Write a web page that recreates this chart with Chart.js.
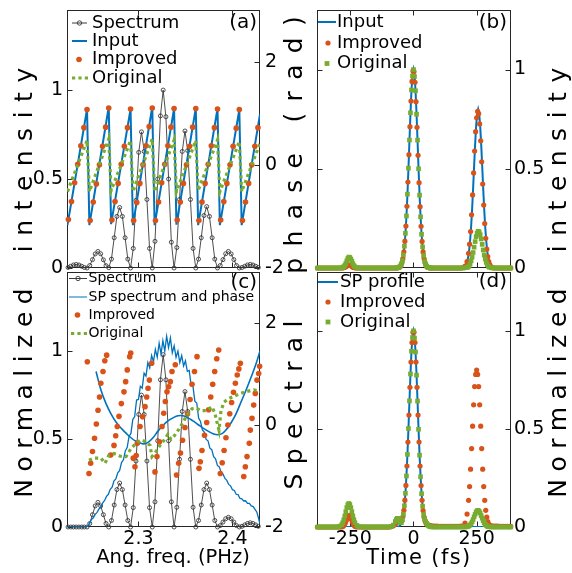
<!DOCTYPE html>
<html>
<head>
<meta charset="utf-8">
<title>Spectral phase retrieval</title>
<script src="https://cdn.jsdelivr.net/npm/chart.js@4.4.1/dist/chart.umd.min.js"></script>
<style>
  html, body { margin:0; padding:0; background:#fff; }
  #wrap { position:relative; width:572px; height:573px; overflow:hidden; background:#fff; }
  #wrap canvas { position:absolute; left:0; top:0; }
  .yt { position:absolute; font-family:'DejaVu Sans', sans-serif; font-size:25px; line-height:1; color:#000;
        white-space:nowrap; transform:translate(-50%,-50%) rotate(-90deg); }
  .xt { position:absolute; font-family:'DejaVu Sans', sans-serif; font-size:19.5px; line-height:1; color:#000;
        white-space:nowrap; transform:translate(-50%,-50%); }
</style>
</head>
<body>
<div id="wrap">
  <canvas id="chartA" width="572" height="573"></canvas>
  <canvas id="chartB" width="572" height="573"></canvas>
  <canvas id="chartC" width="572" height="573"></canvas>
  <canvas id="chartD" width="572" height="573"></canvas>
  <div class="yt" style="left:23px;top:160px;letter-spacing:9.5px;padding-left:9.5px">intensity</div>
  <div class="yt" style="left:23px;top:393px;letter-spacing:7.5px;padding-left:7.5px">Normalized</div>
  <div class="yt" style="left:293px;top:145px;letter-spacing:11.3px;padding-left:11.3px">phase (rad)</div>
  <div class="yt" style="left:293px;top:405px;letter-spacing:9.4px;padding-left:9.4px">Spectral</div>
  <div class="yt" style="left:557px;top:160px;letter-spacing:9.5px;padding-left:9.5px">intensity</div>
  <div class="yt" style="left:557px;top:393px;letter-spacing:7.5px;padding-left:7.5px">Normalized</div>
  <div class="xt" style="left:173px;top:556.5px">Ang. freq. (PHz)</div>
  <div class="xt" style="left:419px;top:556.5px;font-size:21px;letter-spacing:1.4px">Time (fs)</div>
</div>
<script>
// ---------------- tick labels ----------------
const freqTicks = [2.3, 2.4];
const timeTicks = [-250, 0, 250];
const intensityTicks = [0, 0.5, 1];
const phaseTicks = [-2, 0, 2];

// ---------------- panel (a) ----------------
const specFreq = [2.2251,2.2280,2.2309,2.2338,2.2367,2.2396,2.2424,
 2.2453,2.2482,2.2511,2.2540,2.2569,2.2598,2.2627,2.2655,
 2.2684,2.2713,2.2742,2.2771,2.2800,2.2829,2.2858,2.2887,
 2.2916,2.2945,2.2974,2.3003,2.3032,2.3061,2.3090,2.3118,
 2.3147,2.3176,2.3205,2.3234,2.3263,2.3292,2.3321,2.3350,
 2.3379,2.3408,2.3437,2.3466,2.3495,2.3524,2.3553,2.3581,
 2.3610,2.3639,2.3668,2.3697,2.3726,2.3755,2.3784,2.3812,
 2.3841,2.3870,2.3899,2.3928,2.3957,2.3986,2.4015,2.4043,
 2.4073,2.4102,2.4131,2.4160,2.4189,2.4218,2.4247,2.4275];
const spectrumA = [0.003,0.010,0.017,0.020,0.017,0.010,0.003,
 0.000,0.014,0.047,0.079,0.093,0.080,0.046,0.013,
 0.002,0.050,0.170,0.290,0.340,0.290,0.170,0.050,
 0.000,0.110,0.380,0.650,0.765,0.655,0.385,0.110,
 0.000,0.150,0.500,0.855,1.000,0.850,0.500,0.145,
 0.000,0.115,0.385,0.655,0.770,0.660,0.385,0.110,
 0.000,0.050,0.170,0.295,0.345,0.290,0.170,0.050,
 0.000,0.014,0.047,0.080,0.093,0.079,0.047,0.014,
 0.000,0.003,0.010,0.017,0.020,0.017,0.010,0.003];
const sawFreqA = [2.2245,2.2453,2.2478,2.2684,2.2709,2.2916,2.2941,2.3147,2.3172,2.3379,2.3404,2.3610,2.3635,2.3841,2.3866,2.4073,2.4098,2.4293];
const inputPhaseA = [-1.17,1.08,-1.17,1.12,-1.15,1.08,-1.17,1.12,-1.17,1.09,-1.16,1.10,-1.17,1.09,-1.17,1.07,-1.17,0.98];
const originalPhaseA = [-0.52,0.47,-0.52,0.50,-0.50,0.47,-0.52,0.50,-0.52,0.48,-0.52,0.47,-0.50,0.48,-0.52,0.45,-0.52,0.42];
const improvedFreqA = [2.2255,2.2288,2.2321,2.2354,2.2387,2.2420,2.2453,
 2.2486,2.2519,2.2552,2.2585,2.2618,2.2651,2.2684,
 2.2718,2.2751,2.2784,2.2817,2.2850,2.2883,2.2916,
 2.2949,2.2982,2.3015,2.3048,2.3081,2.3114,2.3147,
 2.3181,2.3214,2.3247,2.3280,2.3313,2.3346,2.3379,
 2.3412,2.3445,2.3478,2.3511,2.3544,2.3577,2.3610,
 2.3643,2.3676,2.3709,2.3742,2.3775,2.3808,2.3841,
 2.3875,2.3908,2.3941,2.3974,2.4007,2.4040,2.4073,
 2.4106,2.4139,2.4172,2.4205,2.4238,2.4271];
const improvedPhaseA = [-1.06,-0.71,-0.35,0.01,0.37,0.72,1.07,
 -1.08,-0.72,-0.37,0.00,0.36,0.73,1.10,
 -1.07,-0.71,-0.36,0.01,0.36,0.72,1.08,
 -1.08,-0.73,-0.36,0.00,0.37,0.74,1.10,
 -1.08,-0.72,-0.35,0.01,0.37,0.73,1.09,
 -1.07,-0.72,-0.36,0.00,0.36,0.73,1.09,
 -1.08,-0.72,-0.36,0.01,0.37,0.72,1.08,
 -1.07,-0.71,-0.36,0.00,0.36,0.71,1.07,
 -1.08,-0.72,-0.36,0.00,0.36,0.72];

// ---------------- panel (c) ----------------
const spectrumC = [0,0,0,0,0,0,0,
 0.000,0.020,0.070,0.120,0.140,0.120,0.070,0.020,
 0.000,0.037,0.125,0.213,0.250,0.213,0.125,0.037,
 0.000,0.110,0.375,0.640,0.750,0.640,0.375,0.110,
 0.000,0.143,0.490,0.837,0.980,0.837,0.490,0.143,
 0.000,0.112,0.385,0.657,0.770,0.657,0.385,0.112,
 0.000,0.037,0.125,0.213,0.250,0.213,0.125,0.037,
 0.000,0.008,0.028,0.047,0.055,0.047,0.028,0.008,
 0.000,0.004,0.012,0.020,0.024,0.020,0.012,0.004];
const spSpecFreqC = [2.224,2.2455,2.246,2.248,2.250,2.252,2.254,2.256,2.258,2.260,2.262,2.264,2.266,2.268,2.270,2.272,2.274,2.276,2.278,2.280,2.282,2.284,2.286,2.288,2.290,2.292,2.294,2.296,2.298,2.300,2.302,2.304,2.306,2.308,2.310,2.312,2.314,2.316,2.318,2.320,2.322,2.324,2.326,2.328,2.330,2.332,2.334,2.336,2.338,2.340,2.342,2.344,2.346,2.348,2.350,2.352,2.354,2.356,2.358,2.360,2.362,2.364,2.366,2.368,2.370,2.372,2.374,2.376,2.378,2.380,2.382,2.384,2.386,2.388,2.390,2.392,2.394,2.396,2.398,2.400,2.402,2.404,2.406,2.408,2.410,2.412,2.414,2.416,2.418,2.420,2.422,2.424,2.426,2.428,2.429];
const spSpectrumC = [0,0,
 0.000,0.022,0.043,0.052,0.072,0.083,0.103,0.112,0.138,0.151,
 0.174,0.186,0.214,0.226,0.262,0.274,0.308,0.322,0.366,0.382,
 0.432,0.452,0.515,0.532,0.612,0.628,0.722,0.725,0.800,0.790,
 0.875,0.858,0.935,0.905,0.975,0.940,1.010,0.965,1.045,0.985,
 1.060,1.000,1.085,1.020,1.075,0.990,1.030,0.965,1.000,0.935,
 0.975,0.915,0.945,0.885,0.890,0.805,0.800,0.715,0.705,0.620,
 0.600,0.552,0.540,0.498,0.490,0.448,0.440,0.400,0.388,0.350,
 0.342,0.310,0.300,0.276,0.265,0.242,0.234,0.212,0.208,0.186,
 0.184,0.162,0.160,0.148,0.149,0.134,0.134,0.120,0.116,0.100,
 0.084,0.045,0.020];
const spPhaseFreqC = [2.2549,2.2602,2.2655,2.2708,2.2761,2.2814,2.2868,2.2921,2.2974,2.3027,2.3059,2.3102,2.3155,2.3208,2.3261,2.3314,2.3368,2.3421,2.3474,2.3527,2.3580,2.3634,2.3687,2.3740,2.3793,2.3846,2.3889,2.3931,2.3984,2.4038,2.4091,2.4144,2.4197,2.4251,2.4293];
const spPhaseC = [1.05,0.68,0.42,0.22,0.06,-0.06,-0.16,-0.25,-0.32,-0.36,-0.37,-0.34,-0.25,-0.12,-0.01,0.08,0.14,0.18,0.18,0.14,0.08,0.01,-0.06,-0.12,-0.17,-0.19,-0.17,-0.10,0.04,0.22,0.45,0.68,0.93,1.20,1.45];
const originalFreqC = [2.2474,2.2527,2.2602,2.2644,2.2687,2.2740,2.2804,2.2868,2.2921,2.2974,2.3027,2.3080,2.3123,2.3144,2.3176,2.3229,2.3272,2.3314,2.3346,2.3378,2.3431,2.3474,2.3517,2.3570,2.3612,2.3666,2.3719,2.3782,2.3814,2.3836,2.3857,2.3878,2.3910,2.3963,2.4049,2.4134,2.4229,2.4293];
const originalPhaseC = [-0.69,-0.65,-0.65,-0.75,-0.59,-0.56,-0.61,-0.62,-0.46,-0.36,-0.29,-0.33,-0.40,-0.62,-0.55,-0.40,-0.30,-0.18,-0.28,-0.22,-0.08,0.05,0.20,0.32,0.33,0.28,0.28,0.36,0.22,0.05,-0.10,0.28,0.45,0.52,0.59,0.65,0.69,0.66];
const improvedFreqC = [2.2456,
 2.2474,2.2492,2.2511,2.2533,2.2552,2.2570,2.2586,2.2600,2.2623,2.2642,2.2662,
 2.2705,2.2740,2.2758,2.2775,2.2793,2.2818,2.2846,2.2864,2.2881,2.2907,2.2918,
 2.2945,2.2963,2.2976,2.2988,2.3017,2.3045,2.3070,2.3088,2.3102,2.3116,2.3141,
 2.3176,2.3197,2.3224,2.3251,2.3269,2.3286,2.3304,2.3321,2.3339,2.3357,2.3392,
 2.3405,2.3428,2.3447,2.3469,2.3495,2.3522,2.3549,2.3570,2.3596,2.3623,
 2.3644,2.3658,2.3676,2.3703,2.3726,2.3747,2.3769,2.3790,2.3811,2.3833,2.3854,
 2.3871,2.3891,2.3911,2.3931,2.3951,2.3971,2.3991,2.4011,2.4031,2.4051,2.4068,2.4084,
 2.4120,2.4137,2.4155,2.4179,2.4190,2.4208,2.4226,2.4243,2.4261,2.4279,2.4289];
const improvedPhaseC = [1.24,
 -0.95,-0.75,-0.52,-0.26,0.02,0.29,0.55,0.82,1.05,1.26,1.37,
 -0.59,-0.40,-0.21,-0.03,0.17,0.42,0.65,0.85,1.08,1.34,1.41,
 -0.65,-0.82,-0.60,-0.36,-0.03,0.16,0.36,0.55,0.72,0.88,1.21,
 -0.92,-0.62,-0.33,-0.03,0.23,0.46,0.65,0.75,0.85,1.05,1.18,
 -0.98,-0.75,-0.55,-0.30,-0.05,0.22,0.50,0.80,1.05,1.34,
 -0.85,-0.72,-0.50,-0.20,0.05,0.30,0.55,0.80,1.05,1.30,1.47,
 -0.95,-0.74,-0.50,-0.25,0.00,0.22,0.44,0.64,0.82,0.98,1.10,1.21,
 -1.01,-0.82,-0.62,-0.36,-0.10,0.13,0.39,0.62,0.88,1.01,1.15];

// ---------------- panels (b) and (d): time domain ----------------
const timeGridOrig = [-380,-372,-364,-356,-348,-340,-332,-324,-316,-308,-300,-292,-284,
 -280,-276,-272,-268,-264,-260,-256,-252,-248,-244,-240,-236,-232,
 -224,-216,-208,-200,-192,-184,-176,-168,-160,-152,-144,-136,-128,-120,-112,-104,-96,-88,-80,-72,
 -68,-64,-60,-56,-52,-48,-44,-40,-36,-32,-28,-24,-20,-16,-12,-8,-4,0,4,8,12,16,20,24,28,32,36,40,44,48,52,56,60,64,68,
 76,84,92,100,108,116,124,132,140,148,156,164,172,180,188,196,204,212,
 216,220,224,228,232,236,240,244,248,252,256,260,264,268,272,276,280,284,288,292,296,300,
 308,316,324,332,340,348,356,364,372,380,385];
const timeGridImp = [-380,-372,-364,-356,-348,-340,-332,-324,-316,-308,-300,-292,-284,
 -278,-274,-270,-266,-262,-258,-254,-250,-246,-242,-238,-234,-230,
 -224,-216,-208,-200,-192,-184,-176,-168,-160,-152,-144,-136,-128,-120,-112,-104,-96,-88,-80,-72,
 -66,-62,-58,-54,-50,-46,-42,-38,-34,-30,-26,-22,-18,-14,-10,-6,-2,2,6,10,14,18,22,26,30,34,38,42,46,50,54,58,62,66,70,
 76,84,92,100,108,116,124,132,140,148,156,164,172,180,188,196,204,212,
 218,222,226,230,234,238,242,246,250,254,258,262,266,270,274,278,282,286,290,294,298,302,
 308,316,324,332,340,348,356,364,372,380,385];
const inputTimeB = [-382,-72,
 -68,-64,-60,-56,-52,-48,-44,-40,-36,-32,-28,-24,-20,-16,-12,-8,-4,0,4,8,12,16,20,24,28,32,36,40,44,48,52,56,60,64,68,
 72,200,208,
 216,220,224,228,232,236,240,244,248,252,256,260,264,268,272,276,280,284,288,292,296,300,
 308,386];
const inputB = [0,0,
 0,0.001,0.002,0.004,0.009,0.019,0.035,0.063,0.106,0.170,0.258,0.369,0.500,0.642,0.779,0.895,0.973,1.000,0.973,0.895,0.779,0.642,0.500,0.369,0.258,0.170,0.106,0.063,0.035,0.019,0.009,0.004,0.002,0.001,0,
 0,0,0.015,
 0.050,0.085,0.136,0.206,0.295,0.400,0.514,0.623,0.716,0.778,0.800,0.778,0.716,0.623,0.514,0.400,0.295,0.206,0.136,0.085,0.050,0.028,
 0.004,0];
const improvedB = [0,0,0,0,0,0,0,0,0,0,0,0,0,
 0.001,0.003,0.005,0.008,0.012,0.014,0.015,0.013,0.010,0.006,0.003,0.002,0.001,
 0,0,0,0,0,0,0,0,0,0,0,0,0,0,0,0,0,0,0,0,
 0.001,0.001,0.003,0.006,0.013,0.026,0.047,0.082,0.135,0.211,0.311,0.433,0.571,0.712,0.841,0.940,0.993,0.990,0.936,0.838,0.709,0.568,0.430,0.309,0.210,0.134,0.081,0.046,0.026,0.013,0.006,0.003,0.001,0.001,0,
 0,0,0,0,0,0,0,0,0,0,0,0,0,0,0,0.002,0.009,0.032,
 0.074,0.120,0.184,0.268,0.368,0.479,0.589,0.687,0.757,0.789,0.778,0.726,0.641,0.535,0.423,0.317,0.224,0.150,0.095,0.057,0.032,0.017,
 0.006,0.001,0,0,0,0,0,0,0,0,0];
const originalB = [0,0,0,0,0,0,0,0,0,0,0,0,0.001,
 0.003,0.007,0.013,0.023,0.036,0.048,0.055,0.053,0.045,0.034,0.022,0.012,0.006,
 0.002,0,0,0,0,0,0,0,0,0,0,0,0,0,0,0,0,0,0,0,
 0,0.001,0.002,0.005,0.010,0.020,0.037,0.066,0.110,0.175,0.262,0.372,0.503,0.645,0.782,0.897,0.968,1.000,0.965,0.893,0.775,0.644,0.500,0.367,0.258,0.170,0.106,0.063,0.035,0.019,0.009,0.004,0.002,0.001,0,
 0,0,0,0,0,0,0,0,0,0,0,0,0,0,0,0,0.001,0.003,
 0.005,0.010,0.020,0.036,0.055,0.078,0.105,0.133,0.158,0.176,0.185,0.182,0.168,0.146,0.119,0.091,0.066,0.045,0.028,0.017,0.009,0.004,
 0.001,0,0,0,0,0,0,0,0,0,0];
const profileTimeD = [-382,-72,
 -68,-64,-60,-56,-52,-48,-44,-40,-36,-32,-28,-24,-20,-16,-12,-8,-4,0,4,8,12,16,20,24,28,32,36,40,44,48,52,56,60,64,68,
 72,386];
const profileD = [0,0,
 0,0.001,0.002,0.004,0.009,0.019,0.035,0.063,0.106,0.170,0.258,0.369,0.500,0.642,0.779,0.895,0.973,1.000,0.973,0.895,0.779,0.642,0.500,0.369,0.258,0.170,0.106,0.063,0.035,0.019,0.009,0.004,0.002,0.001,0,
 0,0];
const improvedD = [0,0,0,0,0,0,0,0,0,0,0,0,0,
 0.004,0.010,0.020,0.033,0.047,0.057,0.060,0.053,0.040,0.026,0.014,0.007,0.003,
 0,0,0,0,0,0,0,0,0,0,0,0,0,0,0,0,0,0.002,0.006,0.015,
 0.025,0.029,0.030,0.026,0.025,0.032,0.052,0.085,0.137,0.212,0.311,0.433,0.571,0.712,0.841,0.940,0.993,0.993,0.940,0.841,0.712,0.571,0.433,0.311,0.211,0.136,0.084,0.050,0.030,0.019,0.014,0.011,0.009,0.007,0.006,
 0.005,0.004,0.004,0.003,0.003,0.003,0.003,0.003,0.003,0.003,0.003,0.003,0.003,0.003,0.004,0.005,0.020,0.066,
 0.136,0.206,0.295,0.400,0.514,0.623,0.716,0.778,0.800,0.778,0.716,0.623,0.514,0.400,0.295,0.206,0.136,0.085,0.050,0.028,0.015,0.008,
 0.006,0.005,0.004,0.004,0.003,0.003,0.003,0.003,0.003,0.003,0.003];
const originalD = [0,0,0,0,0,0,0,0,0,0,0.001,0.004,0.012,
 0.022,0.037,0.056,0.078,0.099,0.114,0.120,0.114,0.099,0.078,0.056,0.037,0.022,
 0.008,0.002,0,0,0,0,0,0,0,0,0,0,0,0,0,0,0,0.002,0.010,0.028,
 0.038,0.044,0.044,0.036,0.024,0.022,0.037,0.065,0.108,0.172,0.260,0.370,0.502,0.643,0.780,0.896,0.966,1.000,0.963,0.892,0.774,0.642,0.498,0.366,0.256,0.170,0.106,0.064,0.040,0.028,0.018,0.010,0.006,0.003,0.001,
 0,0,0,0,0,0,0,0,0,0,0,0,0,0,0,0,0,0.001,
 0.003,0.006,0.010,0.017,0.026,0.038,0.052,0.065,0.076,0.083,0.085,0.080,0.071,0.058,0.045,0.032,0.021,0.013,0.008,0.004,0.002,0.001,
 0,0,0,0,0,0,0,0,0,0,0];

// ---------------- styling & helpers ----------------
const BLUE = '#0072BD', ORANGE = '#D95319', GREEN = '#77AC30', SPEC = '#3a3a3a', AXIS = '#262626';
const FONT = "'DejaVu Sans', sans-serif";
Chart.defaults.font.family = FONT;
Chart.defaults.color = '#000';

const pts = (xs, ys) => xs.map((x, i) => ({x: x, y: ys[i]}));
const zeroPad = s => { s.paddingTop = 0; s.paddingBottom = 0; s.paddingLeft = 0; s.paddingRight = 0; };
const fixW = w => s => { s.width = w; zeroPad(s); };
const fixH = h => s => { s.height = h; zeroPad(s); };
const setTicks = vals => s => { s.ticks = vals.map(v => ({value: v})); };
const tickFont = {family: FONT, size: 19, lineHeight: 1};

function xScale(min, max, vals, labels) {
  return {type: 'linear', position: 'bottom', min: min, max: max,
    grid: {display: false, drawTicks: false}, border: {display: false},
    afterBuildTicks: setTicks(vals),
    ticks: {display: labels, autoSkip: false, maxRotation: 0, padding: 3, font: tickFont, color: '#000', callback: v => String(v)},
    afterFit: fixH(labels ? 30 : 0)};
}
function yScale(pos, min, max, vals, pad) {
  return {type: 'linear', position: pos, min: min, max: max,
    grid: {display: false, drawTicks: false}, border: {display: false},
    afterBuildTicks: setTicks(vals),
    ticks: {autoSkip: false, padding: pad, font: tickFont, color: '#000', callback: v => String(v)},
    afterFit: fixW(40)};
}

function panelPlugin(spec) {
  return {
    id: 'panelDeco',
    beforeDatasetsDraw(chart) {
      const ctx = chart.ctx, a = chart.chartArea, sc = chart.scales, L = 5;
      const l = Math.round(a.left) + 0.5, r = Math.round(a.right) - 0.5;
      const t = Math.round(a.top) + 0.5, b = Math.round(a.bottom) - 0.5;
      ctx.save();
      ctx.strokeStyle = AXIS; ctx.lineWidth = 1; ctx.setLineDash([]);
      ctx.strokeRect(l, t, r - l, b - t);
      ctx.beginPath();
      spec.xTicks.forEach(v => {
        const x = Math.round(sc.x.getPixelForValue(v)) + 0.5;
        ctx.moveTo(x, b); ctx.lineTo(x, b - L); ctx.moveTo(x, t); ctx.lineTo(x, t + L);
      });
      (spec.leftTicks || []).forEach(v => {
        const y = Math.round(sc[spec.leftScale].getPixelForValue(v)) + 0.5;
        ctx.moveTo(l, y); ctx.lineTo(l + L, y);
      });
      (spec.rightTicks || []).forEach(v => {
        const y = Math.round(sc[spec.rightScale].getPixelForValue(v)) + 0.5;
        ctx.moveTo(r, y); ctx.lineTo(r - L, y);
      });
      ctx.stroke();
      ctx.restore();
    },
    afterDraw(chart) {
      const ctx = chart.ctx;
      ctx.save();
      ctx.fillStyle = '#000'; ctx.textBaseline = 'middle';
      ctx.font = '20px ' + FONT; ctx.textAlign = 'right';
      ctx.fillText(spec.tag, spec.tagX, spec.tagY);
      ctx.font = spec.legendSize + 'px ' + FONT; ctx.textAlign = 'left';
      spec.legend.forEach(it => {
        const y = it.y;
        ctx.setLineDash([]);
        if (it.kind === 'line' || it.kind === 'lineCircle') {
          ctx.strokeStyle = it.color; ctx.lineWidth = it.w;
          ctx.beginPath(); ctx.moveTo(it.x0, y); ctx.lineTo(it.x1, y); ctx.stroke();
        }
        if (it.kind === 'lineCircle') {
          ctx.lineWidth = 0.9; ctx.beginPath(); ctx.arc((it.x0 + it.x1) / 2, y, 2.2, 0, Math.PI * 2); ctx.stroke();
        }
        if (it.kind === 'dotted') {
          ctx.strokeStyle = it.color; ctx.lineWidth = it.w; ctx.setLineDash([3.2, 3.2]);
          ctx.beginPath(); ctx.moveTo(it.x0, y); ctx.lineTo(it.x1, y); ctx.stroke(); ctx.setLineDash([]);
        }
        if (it.kind === 'dot') {
          ctx.fillStyle = it.color; ctx.beginPath(); ctx.arc(it.x0, y, it.r, 0, Math.PI * 2); ctx.fill();
        }
        if (it.kind === 'square') {
          ctx.fillStyle = it.color; ctx.fillRect(it.x0 - it.r, y - it.r, 2 * it.r, 2 * it.r);
        }
        ctx.fillStyle = '#000';
        ctx.fillText(it.text, spec.legendX, y);
      });
      ctx.restore();
    }
  };
}

function baseOptions(padding, scales) {
  return {
    responsive: false, animation: false, devicePixelRatio: 1, events: [],
    layout: {padding: padding},
    plugins: {legend: {display: false}, tooltip: {enabled: false}},
    scales: scales
  };
}

const dotted = (data, axis, order) => ({data: data, yAxisID: axis, showLine: true, borderColor: GREEN, borderWidth: 3.2,
  borderDash: [3.2, 3.2], pointRadius: 0, order: order});
const dots = (data, axis, r, order) => ({data: data, yAxisID: axis, showLine: false, pointRadius: r,
  pointBackgroundColor: ORANGE, pointBorderWidth: 0, order: order, clip: 8});
const squares = (data, axis, order) => ({data: data, yAxisID: axis, showLine: false, pointStyle: 'rect', pointRadius: 3.3,
  pointBackgroundColor: GREEN, pointBorderWidth: 0, order: order, clip: 8});
const line = (data, axis, w, order, tension) => ({data: data, yAxisID: axis, showLine: true, borderColor: BLUE, borderWidth: w,
  pointRadius: 0, order: order, tension: tension || 0});
const specLine = (data, order) => ({data: data, yAxisID: 'y', showLine: true, borderColor: SPEC, borderWidth: 0.9,
  pointRadius: 2, pointBackgroundColor: 'rgba(0,0,0,0)', pointBorderColor: SPEC, pointBorderWidth: 0.9, order: order, clip: 8});

// ---------------- (a) ----------------
new Chart(document.getElementById('chartA'), {
  type: 'scatter',
  data: {datasets: [
    Object.assign(dotted(pts(sawFreqA, originalPhaseA), 'y1', 1), {label: 'Original'}),
    Object.assign(dots(pts(improvedFreqA, improvedPhaseA), 'y1', 2.8, 2), {label: 'Improved'}),
    Object.assign(line(pts(sawFreqA, inputPhaseA), 'y1', 2, 3), {label: 'Input'}),
    Object.assign(specLine(pts(specFreq, spectrumA), 4), {label: 'Spectrum'})
  ]},
  options: baseOptions({left: 27, right: 272, top: 10, bottom: 305}, {
    x: xScale(2.224, 2.4293, freqTicks, false),
    y: yScale('left', 0, 1.45, intensityTicks, 4),
    y1: yScale('right', -2, 3, phaseTicks, 5)
  }),
  plugins: [panelPlugin({xTicks: freqTicks, leftScale: 'y', leftTicks: intensityTicks, rightScale: 'y1', rightTicks: phaseTicks,
    tag: '(a)', tagX: 257, tagY: 23, legendX: 92, legendSize: 18,
    legend: [
      {kind: 'lineCircle', color: SPEC, w: 1, x0: 72, x1: 87, y: 23, text: 'Spectrum'},
      {kind: 'line', color: BLUE, w: 2, x0: 72, x1: 87, y: 41, text: 'Input'},
      {kind: 'dot', color: ORANGE, r: 2.8, x0: 79, y: 59.5, text: 'Improved'},
      {kind: 'dotted', color: GREEN, w: 3.2, x0: 72, x1: 88, y: 78, text: 'Original'}
    ]})]
});

// ---------------- (b) ----------------
new Chart(document.getElementById('chartB'), {
  type: 'scatter',
  data: {datasets: [
    Object.assign(squares(pts(timeGridOrig, originalB), 'y', 1), {label: 'Original'}),
    Object.assign(dots(pts(timeGridImp, improvedB), 'y', 2.6, 2), {label: 'Improved'}),
    Object.assign(line(pts(inputTimeB, inputB), 'y', 2, 3), {label: 'Input'})
  ]},
  options: baseOptions({left: 317, right: 21, top: 10, bottom: 305}, {
    x: xScale(-382, 386, timeTicks, false),
    y: yScale('right', 0, 1.3, intensityTicks, 3)
  }),
  plugins: [panelPlugin({xTicks: timeTicks, leftScale: 'y', leftTicks: intensityTicks, rightScale: 'y', rightTicks: intensityTicks,
    tag: '(b)', tagX: 507, tagY: 23, legendX: 337, legendSize: 18,
    legend: [
      {kind: 'line', color: BLUE, w: 2, x0: 318, x1: 336, y: 22, text: 'Input'},
      {kind: 'dot', color: ORANGE, r: 2.6, x0: 328, y: 43, text: 'Improved'},
      {kind: 'square', color: GREEN, r: 2.4, x0: 327, y: 63.5, text: 'Original'}
    ]})]
});

// ---------------- (c) ----------------
new Chart(document.getElementById('chartC'), {
  type: 'scatter',
  data: {datasets: [
    Object.assign(dotted(pts(originalFreqC, originalPhaseC), 'y1', 1), {label: 'Original'}),
    Object.assign(dots(pts(improvedFreqC, improvedPhaseC), 'y1', 2.8, 2), {label: 'Improved'}),
    Object.assign(line(pts(spPhaseFreqC, spPhaseC), 'y1', 1.6, 3, 0.4), {label: 'SP phase'}),
    Object.assign(line(pts(spSpecFreqC, spSpectrumC), 'y', 1.3, 4), {label: 'SP spectrum'}),
    Object.assign(specLine(pts(specFreq, spectrumC), 5), {label: 'Spectrum'})
  ]},
  options: baseOptions({left: 27, right: 272, top: 272, bottom: 16}, {
    x: xScale(2.224, 2.4293, freqTicks, true),
    y: yScale('left', 0, 1.45, intensityTicks, 4),
    y1: yScale('right', -2, 3, phaseTicks, 5)
  }),
  plugins: [panelPlugin({xTicks: freqTicks, leftScale: 'y', leftTicks: intensityTicks, rightScale: 'y1', rightTicks: phaseTicks,
    tag: '(c)', tagX: 257, tagY: 283, legendX: 88.5, legendSize: 14,
    legend: [
      {kind: 'lineCircle', color: SPEC, w: 1, x0: 69, x1: 87, y: 278.5, text: 'Spectrum'},
      {kind: 'line', color: BLUE, w: 1, x0: 69, x1: 87, y: 297, text: 'SP spectrum and phase'},
      {kind: 'dot', color: ORANGE, r: 2.8, x0: 77.5, y: 315, text: 'Improved'},
      {kind: 'dotted', color: GREEN, w: 3.2, x0: 71, x1: 87, y: 333.5, text: 'Original'}
    ]})]
});

// ---------------- (d) ----------------
new Chart(document.getElementById('chartD'), {
  type: 'scatter',
  data: {datasets: [
    Object.assign(squares(pts(timeGridOrig, originalD), 'y', 1), {label: 'Original'}),
    Object.assign(dots(pts(timeGridImp, improvedD), 'y', 2.6, 2), {label: 'Improved'}),
    Object.assign(line(pts(profileTimeD, profileD), 'y', 2, 3), {label: 'SP profile'})
  ]},
  options: baseOptions({left: 317, right: 21, top: 272, bottom: 16}, {
    x: xScale(-382, 386, timeTicks, true),
    y: yScale('right', 0, 1.3, intensityTicks, 3)
  }),
  plugins: [panelPlugin({xTicks: timeTicks, leftScale: 'y', leftTicks: intensityTicks, rightScale: 'y', rightTicks: intensityTicks,
    tag: '(d)', tagX: 507, tagY: 282, legendX: 340, legendSize: 18,
    legend: [
      {kind: 'line', color: BLUE, w: 2, x0: 318, x1: 338, y: 282, text: 'SP profile'},
      {kind: 'dot', color: ORANGE, r: 2.6, x0: 328, y: 302, text: 'Improved'},
      {kind: 'square', color: GREEN, r: 2.4, x0: 328, y: 322, text: 'Original'}
    ]})]
});
</script>
</body>
</html>
